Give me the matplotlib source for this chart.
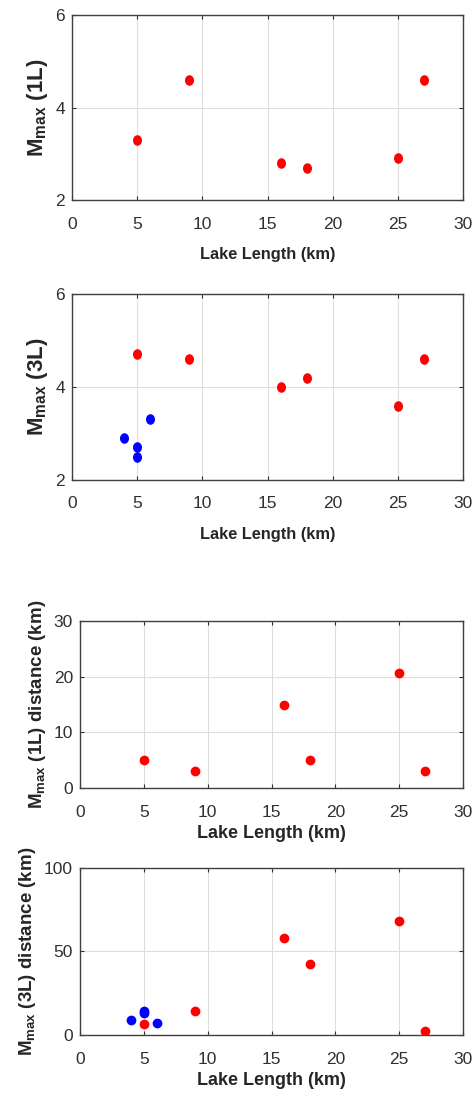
import matplotlib
matplotlib.use("Agg")
import numpy as np
import matplotlib.pyplot as plt
from matplotlib.path import Path

plt.rcParams["font.family"] = ["Liberation Sans", "DejaVu Sans"]
plt.rcParams["mathtext.fontset"] = "custom"
plt.rcParams["mathtext.rm"] = "Liberation Sans"
plt.rcParams["mathtext.bf"] = "Liberation Sans:bold"

# lake lengths (km) for the single-lake and three-lake runs
lake_len = [5, 9, 16, 18, 25, 27]
mmax_1l = [3.3, 4.6, 2.8, 2.7, 2.9, 4.6]
mmax_3l = [4.7, 4.6, 4.0, 4.2, 3.6, 4.6]
dist_1l = [5.0, 3.0, 14.9, 5.1, 20.6, 3.0]
dist_3l = [6.6, 14.4, 57.8, 42.4, 68.2, 2.6]

# short-lake cases (blue)
small_len = [4, 5, 5, 6]
small_mmax_3l = [2.9, 2.7, 2.5, 3.3]
small_dist_3l = [9.0, 13.2, 14.4, 7.2]

xticks = [0, 5, 10, 15, 20, 25, 30]

# slightly tall dot for the magnitude panels
circ = Path.unit_circle()
tall_dot = Path(circ.vertices * np.array([0.83, 1.0]), circ.codes)

fig = plt.figure(figsize=(4.76, 10.93), dpi=100)

# rect, x, y, blue x, blue y, ylabel, ylim, yticks, marker, msize, kind
panels = [
    ([0.151, 0.817, 0.822, 0.169], lake_len, mmax_1l, None, None,
     r"M$_{\mathbf{max}}$ (1L)", (2, 6), [2, 4, 6], tall_dot, 6.6, "top"),
    ([0.151, 0.561, 0.822, 0.170], lake_len, mmax_3l, small_len, small_mmax_3l,
     r"M$_{\mathbf{max}}$ (3L)", (2, 6), [2, 4, 6], tall_dot, 6.6, "top"),
    ([0.168, 0.279, 0.805, 0.153], lake_len, dist_1l, None, None,
     r"M$_{\mathbf{max}}$ (1L) distance (km)", (0, 30), [0, 10, 20, 30], "o", 6.0, "bottom"),
    ([0.168, 0.053, 0.805, 0.153], lake_len, dist_3l, small_len, small_dist_3l,
     r"M$_{\mathbf{max}}$ (3L) distance (km)", (0, 100), [0, 50, 100], "o", 6.0, "bottom"),
]

for rect, x, y, xb, yb, ylab, ylim, yticks, mk, ms, kind in panels:
    if kind == "top":
        tick_fs, xlab_fs, ylab_fs, xlab_pad = 12.5, 11.8, 16, 11
    else:
        tick_fs, xlab_fs, ylab_fs, xlab_pad = 12.5, 13, 13.5, 3.5

    ax = fig.add_axes(rect)
    ax.plot(x, y, linestyle="none", marker=mk, color="red", markersize=ms, zorder=3)
    if xb is not None:
        ax.plot(xb, yb, linestyle="none", marker=mk, color="blue", markersize=ms, zorder=3)
    ax.set_xlim(0, 30)
    ax.set_ylim(*ylim)
    ax.set_xticks(xticks)
    ax.set_yticks(yticks)
    ax.grid(True, color="#dedede", linewidth=0.8)
    ax.set_axisbelow(True)
    ax.tick_params(direction="in", top=True, right=True, length=3,
                   labelsize=tick_fs, colors="#303030")
    ax.tick_params(axis="x", pad=12)
    ax.tick_params(axis="y", pad=5)
    for sp in ax.spines.values():
        sp.set_color("#404040")
        sp.set_linewidth(1.0)
    ax.set_xlabel("Lake Length (km)", fontsize=xlab_fs, fontweight="bold",
                  color="#262626", labelpad=xlab_pad)
    ax.set_ylabel(ylab, fontsize=ylab_fs, fontweight="bold", color="#262626",
                  labelpad=4)

fig.savefig("out.png", dpi=100)
